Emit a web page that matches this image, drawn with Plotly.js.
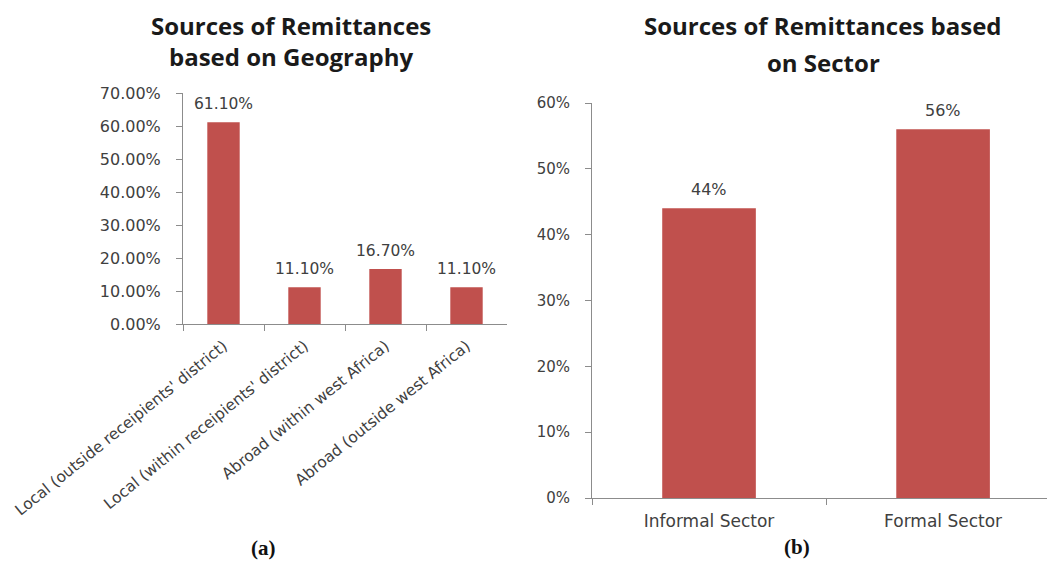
<!DOCTYPE html>
<html><head><meta charset="utf-8">
<script src="https://cdn.plot.ly/plotly-3.0.1.min.js"></script>
<style>html,body{margin:0;padding:0;background:#fff}</style>
</head><body>
<div id="chart" style="width:1047px;height:563px"></div>
<script>
var geoCategories = ["Local (outside receipients' district)", "Local (within receipients' district)", "Abroad (within west Africa)", "Abroad (outside west Africa)"];
var geoValues = [61.1, 11.1, 16.7, 11.1];
var sectorCategories = ["Informal Sector", "Formal Sector"];
var sectorValues = [44, 56];
var geoTicks = [0, 10, 20, 30, 40, 50, 60, 70];
var sectorTicks = [0, 10, 20, 30, 40, 50, 60];

var W = 1047, H = 563;
function px(x){return x / W;}
function py(y){return 1 - y / H;}
var barColor = '#C0504D';
var axisColor = '#8c8c8c';
var textColor = '#404040';
var fam = '"DejaVu Sans", sans-serif';
var titleFam = '"Open Sans", sans-serif';

var traces = [
  {type:'bar', x: geoCategories, y: geoValues, xaxis:'x', yaxis:'y',
   marker:{color:barColor}, hoverinfo:'none'},
  {type:'bar', x: sectorCategories, y: sectorValues, xaxis:'x2', yaxis:'y2',
   marker:{color:barColor}, hoverinfo:'none'}
];

var ann = [];
geoCategories.forEach(function(c, i){
  ann.push({xref:'x', yref:'y', x:c, y:geoValues[i], text:geoValues[i].toFixed(2)+'%',
    showarrow:false, yanchor:'middle', yshift:18, font:{family:fam, size:15.5, color:textColor}});
});
sectorCategories.forEach(function(c, i){
  ann.push({xref:'x2', yref:'y2', x:c, y:sectorValues[i], text:sectorValues[i].toFixed(0)+'%',
    showarrow:false, yanchor:'middle', yshift:19, font:{family:fam, size:16, color:textColor}});
});
var titleFont = {family:titleFam, size:24, color:'#1a1a1a'};
[
  ['Sources of Remittances', 291, 25],
  ['based on Geography', 291, 56],
  ['Sources of Remittances based', 823, 25],
  ['on Sector', 823, 62]
].forEach(function(t){
  ann.push({xref:'paper', yref:'paper', x:px(t[1]), y:py(t[2]), text:'<b>'+t[0]+'</b>',
    showarrow:false, xanchor:'center', yanchor:'middle', font:titleFont});
});
ann.push({xref:'paper', yref:'paper', x:px(263), y:py(548), text:'<b>(a)</b>', showarrow:false,
  font:{family:'"Liberation Serif", serif', size:21, color:'#111'}, xanchor:'center', yanchor:'middle'});
ann.push({xref:'paper', yref:'paper', x:px(797), y:py(547), text:'<b>(b)</b>', showarrow:false,
  font:{family:'"Liberation Serif", serif', size:21, color:'#111'}, xanchor:'center', yanchor:'middle'});

var layout = {
  width: W, height: H, margin:{l:0,r:0,t:0,b:0}, showlegend:false,
  paper_bgcolor:'#fff', plot_bgcolor:'#fff', bargap:0.6,
  font:{family:fam, color:textColor},
  xaxis:{domain:[px(183), px(507)], anchor:'y', type:'category', range:[-0.5,3.5],
    showline:true, linecolor:axisColor, linewidth:1, ticks:'outside', tickson:'boundaries',
    ticklen:6, tickcolor:axisColor, tickangle:-39, ticklabelstandoff:6,
    tickfont:{family:fam, size:15.5, color:textColor}, showgrid:false, zeroline:false},
  yaxis:{domain:[py(324), py(93)], anchor:'x', range:[0,70], tickvals:geoTicks,
    ticktext: geoTicks.map(function(v){return v.toFixed(2)+'%';}),
    showline:true, linecolor:axisColor, linewidth:1, ticks:'outside', ticklen:6, tickcolor:axisColor,
    ticklabelstandoff:12, tickfont:{family:fam, size:16, color:textColor}, showgrid:false, zeroline:false},
  xaxis2:{domain:[px(592), 1], anchor:'y2', type:'category', range:[-0.5,1.444],
    showline:true, linecolor:axisColor, linewidth:1, ticks:'outside', tickson:'boundaries',
    ticklen:6, tickcolor:axisColor, tickangle:0, ticklabelstandoff:8,
    tickfont:{family:fam, size:17, color:textColor}, showgrid:false, zeroline:false},
  yaxis2:{domain:[py(498), py(103)], anchor:'x2', range:[0,60], tickvals:sectorTicks,
    ticktext: sectorTicks.map(function(v){return v+'%';}),
    showline:true, linecolor:axisColor, linewidth:1, ticks:'outside', ticklen:6, tickcolor:axisColor,
    ticklabelstandoff:12, tickfont:{family:fam, size:15, color:textColor}, showgrid:false, zeroline:false},
  annotations: ann
};
Plotly.newPlot('chart', traces, layout, {staticPlot:true, displayModeBar:false});
</script>
</body></html>
